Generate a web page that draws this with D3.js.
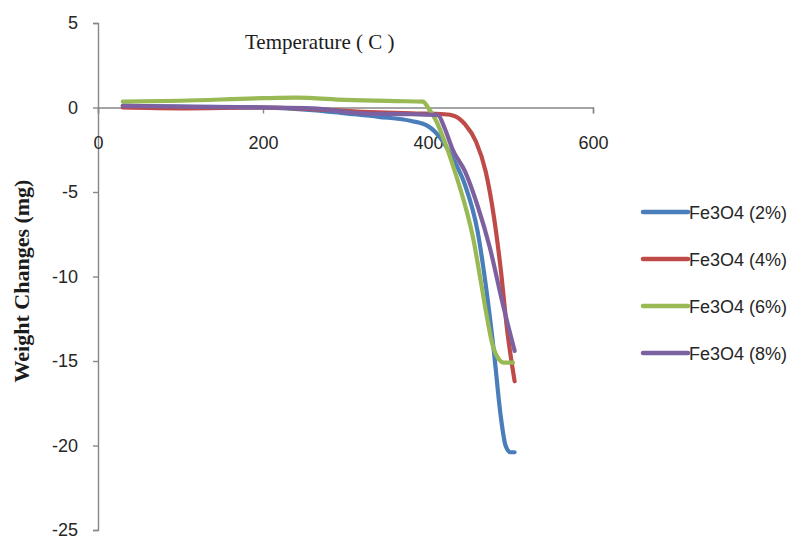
<!DOCTYPE html>
<html>
<head>
<meta charset="utf-8">
<script src="https://cdn.jsdelivr.net/npm/d3@7"></script>
<style>
  body { margin: 0; background: #fff; }
  svg { display: block; }
</style>
</head>
<body>
<div id="chart"></div>
<script>
/* --- data --------------------------------------------------------------- */
const seriesNames = ["Fe3O4 (2%)", "Fe3O4 (4%)", "Fe3O4 (6%)", "Fe3O4 (8%)"];

const temp2 = [30, 100, 200, 260, 300, 340, 380, 400, 415, 430, 445, 460, 470, 480, 488, 494, 500, 505];
const wt2   = [0.1, 0.05, 0, -0.15, -0.35, -0.55, -0.8, -1.1, -1.8, -3.0, -4.6, -7.3, -10.5, -14.5, -18.2, -20.0, -20.4, -20.4];

const temp4 = [30, 100, 200, 260, 320, 380, 420, 432, 445, 458, 470, 480, 488, 496, 505];
const wt4   = [0, -0.05, 0, -0.1, -0.25, -0.35, -0.4, -0.5, -1.0, -2.0, -3.8, -6.5, -9.5, -13.2, -16.2];

const temp6 = [30, 100, 200, 240, 300, 360, 394, 400, 410, 420, 432, 445, 455, 463, 470, 478, 486, 492, 503];
const wt6   = [0.35, 0.4, 0.55, 0.58, 0.45, 0.38, 0.35, 0, -0.8, -2.0, -3.7, -5.8, -7.8, -10.0, -12.0, -14.0, -14.9, -15.1, -15.1];

const temp8 = [30, 100, 200, 260, 320, 380, 412, 420, 430, 445, 460, 475, 490, 505];
const wt8   = [0.1, 0.05, 0, -0.05, -0.35, -0.4, -0.45, -1.2, -2.5, -3.8, -5.8, -8.3, -11.5, -14.4];

const xTicks = [0, 200, 400, 600];
const yTicks = [5, 0, -5, -10, -15, -20, -25];
const colors = ["#4a7ebb", "#be4b48", "#98b954", "#7d60a0"];

const series = [
  { name: seriesNames[0], t: temp2, w: wt2 },
  { name: seriesNames[1], t: temp4, w: wt4 },
  { name: seriesNames[2], t: temp6, w: wt6 },
  { name: seriesNames[3], t: temp8, w: wt8 }
];

/* --- layout ------------------------------------------------------------- */
const width = 795, height = 543;
const svg = d3.select("#chart").append("svg")
  .attr("width", width)
  .attr("height", height);

const xScale = d3.scaleLinear().domain([0, 600]).range([98, 593]);
const yScale = d3.scaleLinear().domain([-25, 5]).range([530, 23]);

const tickFont = "'Liberation Sans', Arial, sans-serif";
const axisCol = "#878787";

/* --- y axis ------------------------------------------------------------- */
const yAxis = svg.append("g")
  .attr("transform", `translate(${xScale(0)},0)`)
  .call(d3.axisLeft(yScale).tickValues(yTicks).tickSize(5).tickPadding(15).tickFormat(d3.format("d")));
yAxis.select(".domain").attr("stroke", axisCol).attr("stroke-width", 1.4);
yAxis.selectAll(".tick line").attr("stroke", axisCol).attr("stroke-width", 1.4);
yAxis.selectAll("text")
  .attr("font-family", tickFont).attr("font-size", 18).attr("fill", "#262626")
  .text(d => d < 0 ? "-" + Math.abs(d) : d);

/* --- x axis (crossing at y = 0) ----------------------------------------- */
const xAxis = svg.append("g")
  .attr("transform", `translate(0,${yScale(0)})`)
  .call(d3.axisBottom(xScale).tickValues(xTicks).tickSize(6).tickPadding(23).tickFormat(d3.format("d")));
xAxis.select(".domain").attr("stroke", axisCol).attr("stroke-width", 1.4);
xAxis.selectAll(".tick line").attr("stroke", axisCol).attr("stroke-width", 1.4);
xAxis.selectAll("text")
  .attr("font-family", tickFont).attr("font-size", 18).attr("fill", "#262626");

/* --- lines -------------------------------------------------------------- */
const line = d3.line()
  .x(d => xScale(d[0]))
  .y(d => yScale(d[1]))
  .curve(d3.curveMonotoneX);

svg.append("g").selectAll("path")
  .data(series)
  .join("path")
    .attr("d", s => line(d3.zip(s.t, s.w)))
    .attr("fill", "none")
    .attr("stroke", (s, i) => colors[i])
    .attr("stroke-width", 4.2)
    .attr("stroke-linecap", "round")
    .attr("stroke-linejoin", "round");

/* --- axis titles -------------------------------------------------------- */
svg.append("text")
  .attr("x", 245).attr("y", 49)
  .attr("font-family", "'Liberation Serif', 'Times New Roman', serif")
  .attr("font-size", 21)
  .attr("fill", "#1c1c1c")
  .text("Temperature ( C )");

svg.append("text")
  .attr("transform", "translate(29,281) rotate(-90)")
  .attr("text-anchor", "middle")
  .attr("font-family", "'Liberation Serif', 'Times New Roman', serif")
  .attr("font-size", 22)
  .attr("font-weight", "bold")
  .attr("fill", "#1c1c1c")
  .text("Weight Changes (mg)");

/* --- legend ------------------------------------------------------------- */
const legend = svg.append("g").attr("transform", "translate(643,212)");
series.forEach((s, i) => {
  const y = i * 47;
  legend.append("line")
    .attr("x1", 0).attr("x2", 45).attr("y1", y).attr("y2", y)
    .attr("stroke", colors[i]).attr("stroke-width", 4.5).attr("stroke-linecap", "round");
  legend.append("text")
    .attr("x", 46).attr("y", y + 6.5)
    .attr("font-family", tickFont).attr("font-size", 18).attr("fill", "#262626")
    .text(s.name);
});
</script>
</body>
</html>
